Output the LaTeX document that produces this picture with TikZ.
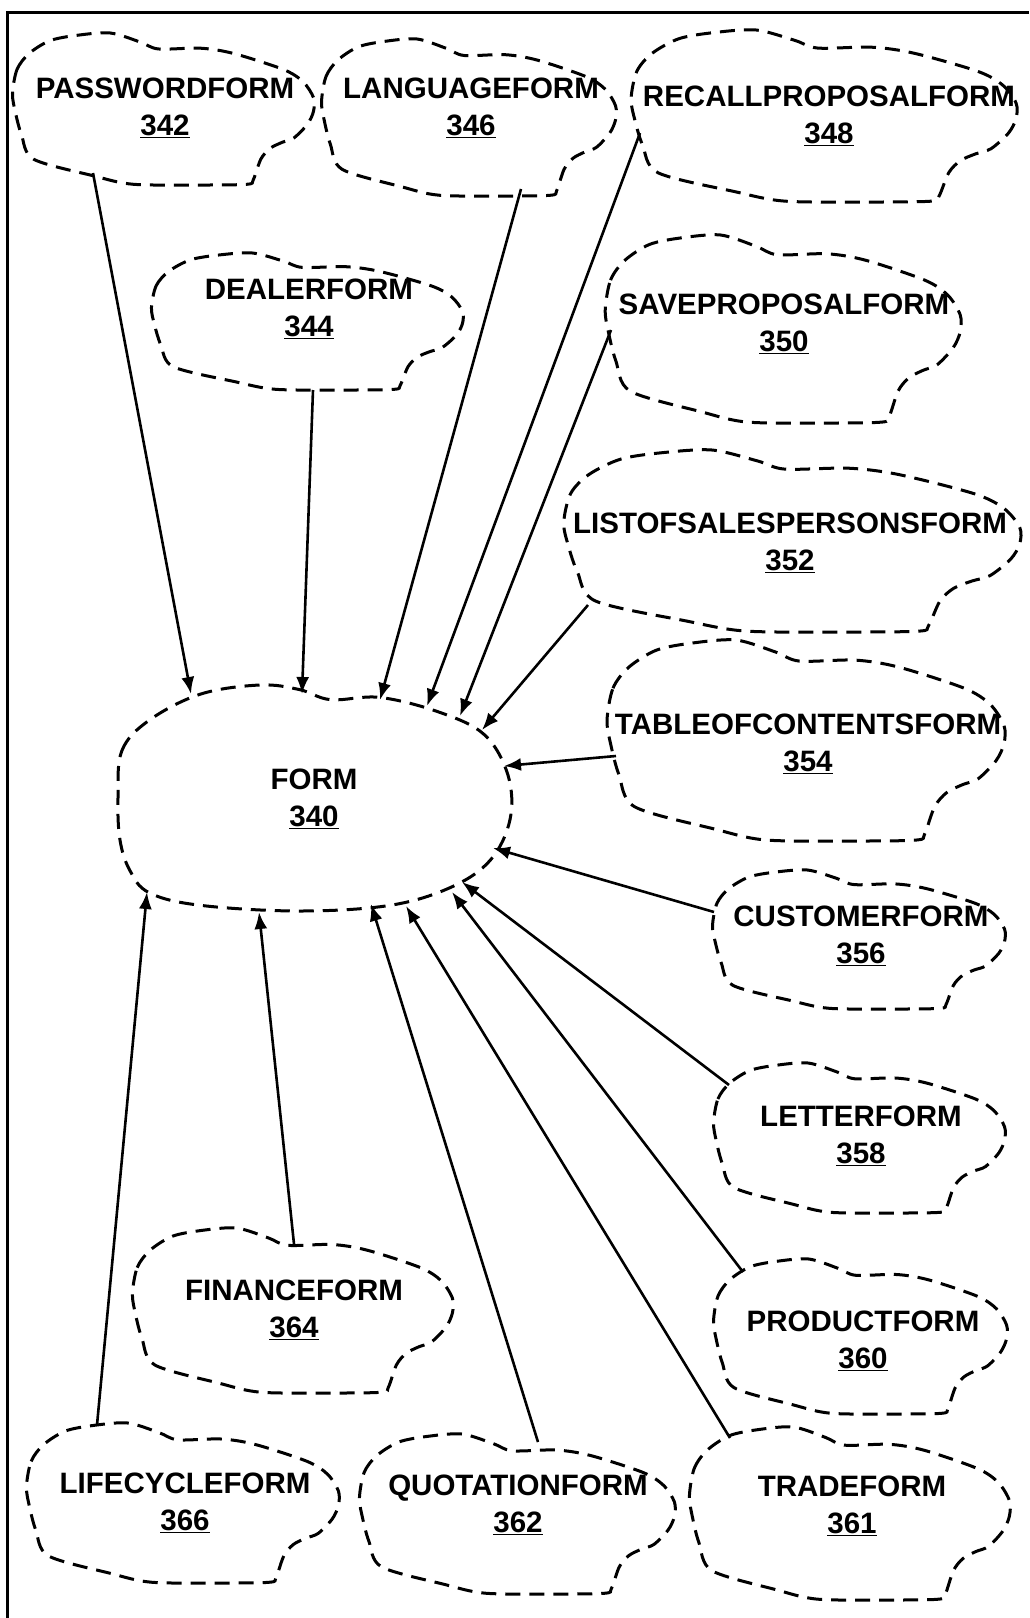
\documentclass[tikz,border=0pt]{standalone}
\usepackage{fontspec}
\setmainfont{Liberation Sans}
\usetikzlibrary{arrows.meta}
\newcommand\mycloud[4]{%
  \begin{scope}[shift={(#1,#2)},xscale=#3,yscale=#4]
    \draw[cloudline] plot[smooth cycle,tension=0.5] coordinates {(-1.01,-0.2) (-0.98,-0.52) (-0.9,-0.73) (-0.76,-0.9) (-0.58,-0.97) (-0.36,-1) (-0.16,-0.88) (-0.04,-0.79) (0.24,-0.8) (0.46,-0.73) (0.79,-0.52) (0.92,-0.36) (0.99,-0.15) (0.99,0.03) (0.95,0.2) (0.86,0.38) (0.78,0.44) (0.7,0.52) (0.64,0.66) (0.59,0.93) (0.55,0.99) (0.24,1) (-0.21,0.99) (-0.47,0.88) (-0.87,0.66) (-0.95,0.34) (-0.99,0.05)};
  \end{scope}}
\begin{document}
\begin{tikzpicture}[x=1pt,y=-1pt,
  cloudline/.style={line width=3pt,dash pattern=on 15pt off 9pt},
  conn/.style={line width=2.6pt,-{Latex[length=17pt,width=13pt]}},
  lbl/.style={font=\bfseries\fontsize{29.5}{37}\selectfont,align=center,inner sep=0pt}]
\useasboundingbox[fill=white] (0,0) rectangle (1029,1618);
% frame
\draw[line width=3pt] (7,1618) -- (7,12) -- (1029,12);
% clouds
\mycloud{164.5}{109}{150.5}{76}
\mycloud{470}{117.5}{147}{78.5}
\mycloud{825.5}{116}{192.5}{86}
\mycloud{308.5}{321.5}{155.5}{68.5}
\mycloud{784.5}{329}{177.5}{94}
\mycloud{794}{541}{228}{91}
\mycloud{807.5}{740.5}{198.5}{100.5}
\mycloud{860}{939.5}{146}{69.5}
\mycloud{860.5}{1138}{145.5}{75}
\mycloud{861.5}{1336.5}{146.5}{77.5}
\mycloud{294}{1310.5}{160}{82.5}
\mycloud{184}{1503}{156}{80}
\mycloud{518.5}{1514}{157.5}{80}
\mycloud{851}{1513.5}{160}{86.5}
% FORM cloud
\begin{scope}[shift={(315,798)},xscale=197,yscale=113]
  \draw[cloudline] plot[smooth cycle,tension=0.6] coordinates {(-1,0) (-0.98,-0.42) (-0.84,-0.69) (-0.58,-0.92) (-0.28,-1) (-0.08,-0.96) (0.08,-0.87) (0.33,-0.89) (0.63,-0.76) (0.86,-0.56) (0.98,-0.2) (0.99,0.19) (0.89,0.55) (0.69,0.79) (0.38,0.95) (-0.08,1) (-0.58,0.95) (-0.84,0.84) (-0.94,0.64) (-0.99,0.37)};
\end{scope}
% labels
\node[lbl] (pw) at (165,108) {PASSWORDFORM\\\underline{342}};
\node[lbl] (lang) at (471,107.5) {LANGUAGEFORM\\\underline{346}};
\node[lbl] (recall) at (829,115.5) {RECALLPROPOSALFORM\\\underline{348}};
\node[lbl] (dealer) at (309,308.5) {DEALERFORM\\\underline{344}};
\node[lbl] (save) at (784,324) {SAVEPROPOSALFORM\\\underline{350}};
\node[lbl] (list) at (790,543) {LISTOFSALESPERSONSFORM\\\underline{352}};
\node[lbl] (form) at (314,798.5) {FORM\\\underline{340}};
\node[lbl] (toc) at (808,744) {TABLEOFCONTENTSFORM\\\underline{354}};
\node[lbl] (cust) at (861,936) {CUSTOMERFORM\\\underline{356}};
\node[lbl] (letter) at (861,1135.5) {LETTERFORM\\\underline{358}};
\node[lbl] (product) at (863,1341) {PRODUCTFORM\\\underline{360}};
\node[lbl] (finance) at (294,1309.5) {FINANCEFORM\\\underline{364}};
\node[lbl] (life) at (185,1503) {LIFECYCLEFORM\\\underline{366}};
\node[lbl] (quot) at (518,1505) {QUOTATIONFORM\\\underline{362}};
\node[lbl] (trade) at (852,1506) {TRADEFORM\\\underline{361}};
% connector end points
\coordinate (pw-o) at (93,173);      \coordinate (pw-i) at (191,694);
\coordinate (dealer-o) at (313,390); \coordinate (dealer-i) at (302,694);
\coordinate (lang-o) at (521,189);   \coordinate (lang-i) at (380,700);
\coordinate (recall-o) at (640,133); \coordinate (recall-i) at (427,706);
\coordinate (save-o) at (611,330);   \coordinate (save-i) at (460,716);
\coordinate (list-o) at (588,605);   \coordinate (list-i) at (482,730);
\coordinate (toc-o) at (616,756);    \coordinate (toc-i) at (504,766);
\coordinate (cust-o) at (714,912);   \coordinate (cust-i) at (493,848);
\coordinate (letter-o) at (729,1085);\coordinate (letter-i) at (462,882);
\coordinate (product-o) at (743,1272);\coordinate (product-i) at (452,892);
\coordinate (trade-o) at (730,1438); \coordinate (trade-i) at (406,906);
\coordinate (quot-o) at (538,1442);  \coordinate (quot-i) at (371,904);
\coordinate (finance-o) at (294,1244);\coordinate (finance-i) at (259,912);
\coordinate (life-o) at (97,1425);   \coordinate (life-i) at (147,892);
% connectors
\foreach \n in {pw,dealer,lang,recall,save,list,toc,cust,letter,product,trade,quot,finance,life}
  \draw[conn] (\n-o) -- (\n-i);
\end{tikzpicture}
\end{document}
